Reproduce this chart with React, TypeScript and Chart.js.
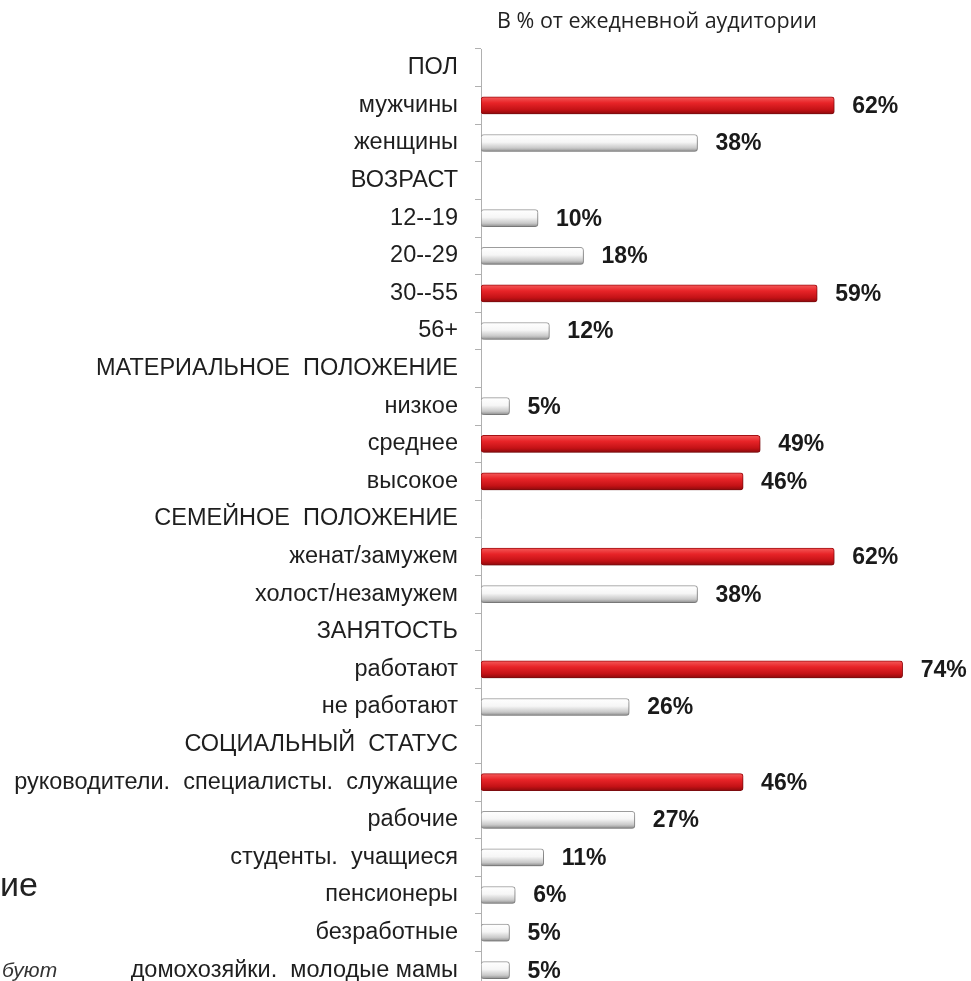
import React, { useEffect, useRef } from "react";
import { Chart, registerables } from "chart.js";

Chart.register(...registerables);

const titleText = "В % от ежедневной аудитории";

const categories = [
  "ПОЛ",
  "мужчины",
  "женщины",
  "ВОЗРАСТ",
  "12--19",
  "20--29",
  "30--55",
  "56+",
  "МАТЕРИАЛЬНОЕ  ПОЛОЖЕНИЕ",
  "низкое",
  "среднее",
  "высокое",
  "СЕМЕЙНОЕ  ПОЛОЖЕНИЕ",
  "женат/замужем",
  "холост/незамужем",
  "ЗАНЯТОСТЬ",
  "работают",
  "не работают",
  "СОЦИАЛЬНЫЙ  СТАТУС",
  "руководители.  специалисты.  служащие",
  "рабочие",
  "студенты.  учащиеся",
  "пенсионеры",
  "безработные",
  "домохозяйки.  молодые мамы",
];

const values: (number | null)[] = [
  null, 62, 38,
  null, 10, 18, 59, 12,
  null, 5, 49, 46,
  null, 62, 38,
  null, 74, 26,
  null, 46, 27, 11, 6, 5, 5,
];

const highlighted: boolean[] = [
  false, true, false,
  false, false, false, true, false,
  false, false, true, true,
  false, true, false,
  false, true, false,
  false, true, false, false, false, false, false,
];

const LABEL_FONT = "'Liberation Sans', Arial, sans-serif";

function barGradient(chart: any, index: number, red: boolean) {
  const c = chart.ctx;
  const yScale = chart.scales && chart.scales.y;
  if (!chart.chartArea || !yScale) return red ? "#e02020" : "#eeeeee";
  const cy = yScale.getPixelForValue(index);
  const h = 17;
  const g = c.createLinearGradient(0, cy - h / 2, 0, cy + h / 2);
  if (red) {
    g.addColorStop(0, "#f45a5a");
    g.addColorStop(0.35, "#e82428");
    g.addColorStop(0.75, "#c41216");
    g.addColorStop(1, "#8e0a0c");
  } else {
    g.addColorStop(0, "#ffffff");
    g.addColorStop(0.45, "#f6f6f6");
    g.addColorStop(0.8, "#c8c8c8");
    g.addColorStop(1, "#8c8c8c");
  }
  return g;
}

const shadowPlugin = {
  id: "barShadow",
  beforeDatasetsDraw(chart: any) {
    const c = chart.ctx;
    c.save();
    c.shadowColor = "rgba(0,0,0,0.3)";
    c.shadowBlur = 5;
    c.shadowOffsetX = 1;
    c.shadowOffsetY = 3;
  },
  afterDatasetsDraw(chart: any) {
    chart.ctx.restore();
  },
};

const valueLabelPlugin = {
  id: "valueLabels",
  afterDraw(chart: any) {
    const c = chart.ctx;
    const meta = chart.getDatasetMeta(0);
    c.save();
    c.font = `bold 23px ${LABEL_FONT}`;
    c.fillStyle = "#1a1a1a";
    c.textAlign = "left";
    c.textBaseline = "middle";
    meta.data.forEach((el: any, i: number) => {
      const v = values[i];
      if (v === null || v === undefined) return;
      c.fillText(`${v}%`, el.x + 18, el.y + 1);
    });
    // title
    c.font = `21.5px 'Open Sans', sans-serif`;
    c.fillStyle = "#222";
    c.textAlign = "center";
    c.textBaseline = "middle";
    c.fillText(titleText, chart.chartArea.left + 176, 22);
    c.restore();
  },
};

function BarChart() {
  const ref = useRef<HTMLCanvasElement | null>(null);
  useEffect(() => {
    if (!ref.current) return;
    const chart = new Chart(ref.current, {
      type: "bar",
      data: {
        labels: categories,
        datasets: [
          {
            data: values as any,
            backgroundColor: (ctx: any) =>
              barGradient(ctx.chart, ctx.dataIndex, highlighted[ctx.dataIndex]),
            borderColor: (ctx: any) =>
              highlighted[ctx.dataIndex] ? "#a81014" : "#a0a0a0",
            borderWidth: 1,
            borderRadius: 3,
            borderSkipped: false,
            barThickness: 17,
          },
        ],
      },
      options: {
        indexAxis: "y",
        animation: false,
        responsive: false,
        maintainAspectRatio: false,
        layout: { padding: { top: 49, bottom: 0, left: 0, right: 0 } },
        plugins: {
          legend: { display: false },
          tooltip: { enabled: false },
          title: { display: false },
        },
        scales: {
          x: {
            display: false,
            min: 0,
            max: 86,
          },
          y: {
            afterFit: (s: any) => {
              s.width = 481;
              s.paddingTop = 0;
              s.paddingBottom = 0;
            },
            border: { display: true, color: "#b0b0b0", width: 1 },
            grid: {
              display: true,
              drawOnChartArea: false,
              drawTicks: true,
              tickLength: 6,
              color: "#b0b0b0",
              offset: true,
            },
            ticks: {
              padding: 17,
              color: "#1e1e1e",
              autoSkip: false,
              font: { family: LABEL_FONT, size: 23.5 },
            },
          },
        },
      },
      plugins: [shadowPlugin, valueLabelPlugin],
    });
    return () => chart.destroy();
  }, []);
  return (
    <canvas
      ref={ref}
      width={971}
      height={989}
      style={{ position: "absolute", left: 0, top: 0, width: 971, height: 989 }}
    />
  );
}

export default function App() {
  return (
    <div
      style={{
        position: "fixed",
        left: 0,
        top: 0,
        width: 971,
        height: 981,
        overflow: "hidden",
        background: "#ffffff",
      }}
    >
      <BarChart />
      <div
        style={{
          position: "absolute",
          left: 0,
          top: 864,
          fontFamily: LABEL_FONT,
          fontSize: 34,
          color: "#222",
          lineHeight: "40px",
        }}
      >
        ие
      </div>
      <div
        style={{
          position: "absolute",
          left: 2,
          top: 958,
          fontFamily: LABEL_FONT,
          fontSize: 21,
          fontStyle: "italic",
          color: "#333",
          lineHeight: "24px",
        }}
      >
        буют
      </div>
    </div>
  );
}
